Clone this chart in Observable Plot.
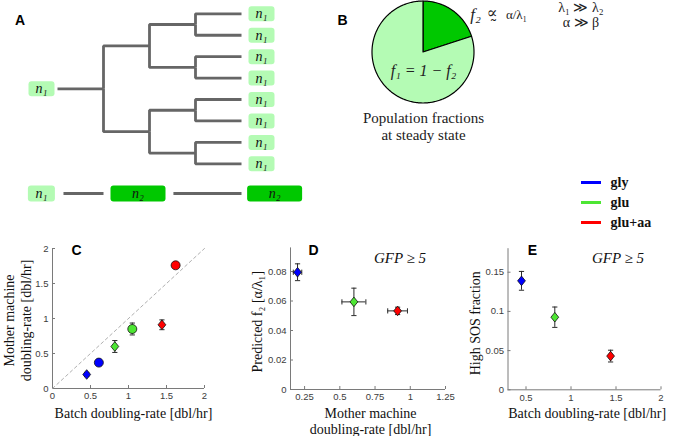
<!DOCTYPE html>
<html><head><meta charset="utf-8">
<script src="https://cdn.jsdelivr.net/npm/d3@7"></script>
<script src="https://cdn.jsdelivr.net/npm/@observablehq/plot@0.6"></script>
<style>
body{margin:0;background:#fff;}
#fig{position:relative;width:680px;height:436px;overflow:hidden;background:#fff;}
.panel{position:absolute;}
.panel svg{overflow:visible;display:block;}
</style></head><body><div id="fig"></div>
<script>
// ---------------- DATA ----------------
const conditions = ["gly", "glu", "glu+aa"];
const conditionColors = ["#0000ff", "#4de633", "#ff0000"];

// Panel C (diamonds and circles): batch vs mother-machine doubling rate
const batchRateDiamond = [0.45, 0.82, 1.44];
const mmRateDiamond = [0.20, 0.60, 0.91];
const mmRateDiamondErr = [0.03, 0.085, 0.07];
const batchRateCircle = [0.61, 1.05, 1.62];
const mmRateCircle = [0.37, 0.85, 1.76];
const mmRateCircleErr = [0.02, 0.085, 0.02];
const identityLine = [0, 2];

// Panel D: predicted f2 vs mother-machine rate
const predictedF2 = [0.0795, 0.0594, 0.0533];
const predictedF2Err = [0.0057, 0.0093, 0.0025];

// Panel E: high SOS fraction vs batch rate
const highSOSFraction = [0.139, 0.0926, 0.043];
const highSOSFractionErr = [0.012, 0.013, 0.0075];

// Panel B: steady-state population fractions
const popStates = ["f2", "f1"];
const popValues = [0.2, 0.8];
const popColors = ["#00c800", "#b4fbb4"];

// Panel A: lineage tree and non-dividing lineage
const lineagePaths = [
  "root",
  "root/g1/g2a/g3a/l1", "root/g1/g2a/g3a/l2", "root/g1/g2a/g3b/l3", "root/g1/g2a/g3b/l4",
  "root/g1/g2b/g3c/l5", "root/g1/g2b/g3c/l6", "root/g1/g2b/g3d/l7", "root/g1/g2b/g3d/l8"
];
const cellStateLabels = ["n₁", "n₂", "n₂"];
const cellStateKinds = ["n1", "n2", "n2"];
const cellPositions = [-0.35, 1.75, 4.72];   // in generations
const linkStarts = [0.13, 2.52];
const linkEnds = [1.0, 4.0];

// Axis ticks
const ticksC = [0, 0.5, 1, 1.5, 2];
const ticksDx = [0.25, 0.5, 0.75, 1, 1.25];
const ticksDy = [0, 0.02, 0.04, 0.06, 0.08];
const ticksEx = [0.5, 1, 1.5, 2];
const ticksEy = [0, 0.05, 0.1, 0.15];

// ---------------- HELPERS ----------------
const serif = "'Liberation Serif','DejaVu Serif',serif";
const sans = "'Liberation Sans',Arial,sans-serif";
const axisGrey = "#7a7a7a";
const tickText = "#3c3c3c";
const barColor = "#2a2a2a";
const lightGreen = "#b4fbb4";
const darkGreen = "#00c800";
const treeGrey = "#666666";

const fig = document.getElementById("fig");
function place(node, left, top) {
  const d = document.createElement("div");
  d.className = "panel";
  d.style.left = left + "px";
  d.style.top = top + "px";
  d.appendChild(node);
  fig.appendChild(d);
}
function roundRect(w, h, r) {
  return {draw(ctx) {
    const x0 = -w / 2, y0 = -h / 2, x1 = w / 2, y1 = h / 2;
    ctx.moveTo(x0 + r, y0);
    ctx.lineTo(x1 - r, y0);
    ctx.arcTo(x1, y0, x1, y0 + r, r);
    ctx.lineTo(x1, y1 - r);
    ctx.arcTo(x1, y1, x1 - r, y1, r);
    ctx.lineTo(x0 + r, y1);
    ctx.arcTo(x0, y1, x0, y1 - r, r);
    ctx.lineTo(x0, y0 + r);
    ctx.arcTo(x0, y0, x0 + r, y0, r);
    ctx.closePath();
  }};
}
const hCap = {draw(ctx) { ctx.moveTo(-2.6, 0); ctx.lineTo(2.6, 0); }};
const vCap = {draw(ctx) { ctx.moveTo(0, -2.6); ctx.lineTo(0, 2.6); }};
const diamondSym = {draw(ctx) { ctx.moveTo(0, -4.8); ctx.lineTo(3.9, 0); ctx.lineTo(0, 4.8); ctx.lineTo(-3.9, 0); ctx.closePath(); }};

const baseStyle = {background: "transparent", overflow: "visible", fontFamily: sans, fontSize: "9.5px", color: "#222"};
const colorScale = {domain: conditions, range: conditionColors};
const fmt = d => `${d}`;
const mid = {textAnchor: "middle", lineAnchor: "middle"};

function frameAxes(xMin, yMin, xTicks, yTicks) {
  return [
    Plot.ruleX([xMin], {stroke: axisGrey, strokeWidth: 1}),
    Plot.ruleY([yMin], {stroke: axisGrey, strokeWidth: 1}),
    Plot.axisX({ticks: xTicks, tickSize: -3, fill: "none", label: null, stroke: axisGrey}),
    Plot.axisY({ticks: yTicks, tickSize: -3, fill: "none", label: null, stroke: axisGrey}),
    Plot.axisX({ticks: xTicks, tickFormat: fmt, tickSize: 0, tickPadding: 4, label: null, fill: tickText, fontSize: 9.5}),
    Plot.axisY({ticks: yTicks, tickFormat: fmt, tickSize: 0, tickPadding: 4, label: null, fill: tickText, fontSize: 9.5})
  ];
}
function vBars(rows, x, y, e) {
  return [
    Plot.ruleX(rows, {x, y1: d => y(d) - e(d), y2: d => y(d) + e(d), stroke: barColor, strokeWidth: 1}),
    Plot.dot(rows, {x, y: d => y(d) + e(d), symbol: hCap, stroke: barColor, fill: "none", strokeWidth: 1}),
    Plot.dot(rows, {x, y: d => y(d) - e(d), symbol: hCap, stroke: barColor, fill: "none", strokeWidth: 1})
  ];
}
function hBars(rows, x, y, e) {
  return [
    Plot.ruleY(rows, {y, x1: d => x(d) - e(d), x2: d => x(d) + e(d), stroke: barColor, strokeWidth: 1}),
    Plot.dot(rows, {y, x: d => x(d) + e(d), symbol: vCap, stroke: barColor, fill: "none", strokeWidth: 1}),
    Plot.dot(rows, {y, x: d => x(d) - e(d), symbol: vCap, stroke: barColor, fill: "none", strokeWidth: 1})
  ];
}
function panelLetter(letter, dx, dy) {
  return Plot.text([letter], {frameAnchor: "top-left", dx, dy, ...mid, fontFamily: sans, fontWeight: "bold", fontSize: 14, fill: "#000"});
}
function yLabel(t, dx, dy, o = {}) {
  return Plot.text([t], {frameAnchor: "left", rotate: -90, dx, dy, ...mid, fontFamily: serif, fontSize: 14, fill: "#111", ...o});
}
function xLabel(t, dx, dy, o = {}) {
  return Plot.text([t], {frameAnchor: "bottom", dx, dy, ...mid, fontFamily: serif, fontSize: 14, fill: "#111", ...o});
}
function note(t, dx, dy, o = {}) {
  return Plot.text([t], {frameAnchor: "top-left", dx, dy, ...mid, fontFamily: serif, fontSize: 15, fill: "#222", ...o});
}

const rowsDiamond = conditions.map((c, i) => ({
  cond: c, batch: batchRateDiamond[i], mm: mmRateDiamond[i], mmErr: mmRateDiamondErr[i],
  f2: predictedF2[i], f2Err: predictedF2Err[i], sos: highSOSFraction[i], sosErr: highSOSFractionErr[i]
}));
const rowsCircle = conditions.map((c, i) => ({cond: c, batch: batchRateCircle[i], mm: mmRateCircle[i], mmErr: mmRateCircleErr[i]}));

// ---------------- PANEL A: tree ----------------
const treeRoot = d3.stratify().path(d => d)(lineagePaths);
d3.tree().nodeSize([1, 1]).separation(() => 1)(treeRoot);
const treeNodes = treeRoot.descendants().map(n => ({gen: n.y, pos: -n.x, leaf: !n.children, root: !n.parent}));
const treeEdges = treeRoot.links().map(l => ({g1: l.source.y, p1: -l.source.x, g2: l.target.y, p2: -l.target.x}));

const treeX = {domain: [-57 / 46, (310 - 57) / 46], range: [0, 310], axis: null};
const nodeText = {fontFamily: serif, fontStyle: "italic", fontSize: 14, fill: "#111", ...mid};
const treePlot = Plot.plot({
  width: 310, height: 180, margin: 0,
  x: treeX,
  y: {domain: [3.5 - (180 - 13.3) / 21.43, 3.5 + 13.3 / 21.43], range: [180, 0], axis: null},
  style: baseStyle,
  marks: [
    Plot.link(treeEdges, {x1: "g1", y1: "p1", x2: "g2", y2: "p2", curve: "step-before", stroke: treeGrey, strokeWidth: 2.8, strokeLinejoin: "miter"}),
    Plot.dot(treeNodes.filter(d => d.leaf), {x: "gen", y: "pos", dx: 20, symbol: roundRect(26, 15, 3), fill: lightGreen, stroke: "none"}),
    Plot.text(treeNodes.filter(d => d.leaf), {x: "gen", y: "pos", dx: 20, text: () => "n₁", ...nodeText}),
    Plot.dot(treeNodes.filter(d => d.root), {x: "gen", y: "pos", dx: -16, symbol: roundRect(26, 15, 3), fill: lightGreen, stroke: "none"}),
    Plot.text(treeNodes.filter(d => d.root), {x: "gen", y: "pos", dx: -16, text: () => "n₁", ...nodeText}),
    panelLetter("A", 19.5, 20)
  ]
});
place(treePlot, 0, 0);

// bottom lineage (no division)
const cells = cellStateLabels.map((s, i) => ({label: s, kind: cellStateKinds[i], pos: cellPositions[i]}));
const segs = linkStarts.map((s, i) => ({from: s, to: linkEnds[i]}));
const rowPlot = Plot.plot({
  width: 310, height: 20, margin: 0,
  x: treeX,
  y: {domain: [-1, 1], range: [20, 0], axis: null},
  style: baseStyle,
  marks: [
    Plot.link(segs, {x1: "from", x2: "to", y1: 0, y2: 0, stroke: treeGrey, strokeWidth: 2.8}),
    Plot.dot(cells.filter(d => d.kind === "n1"), {x: "pos", symbol: roundRect(27, 16, 3), fill: lightGreen, stroke: "none"}),
    Plot.dot(cells.filter(d => d.kind === "n2"), {x: "pos", symbol: roundRect(55, 16, 3), fill: darkGreen, stroke: "none"}),
    Plot.text(cells, {x: "pos", text: "label", ...nodeText})
  ]
});
place(rowPlot, 0, 183);

// ---------------- PANEL B: pie ----------------
const popData = popStates.map((s, i) => ({state: s, value: popValues[i]}));
const arcs = d3.pie().sort(null).value(d => d.value)(popData);
const slicePts = arcs.flatMap(a => {
  const n = Math.max(2, Math.ceil((a.endAngle - a.startAngle) / (Math.PI / 180)));
  const pts = [{state: a.data.state, x: 0, y: 0}];
  for (let k = 0; k <= n; ++k) {
    const t = a.startAngle + (a.endAngle - a.startAngle) * k / n;
    pts.push({state: a.data.state, x: Math.sin(t), y: Math.cos(t)});
  }
  pts.push({state: a.data.state, x: 0, y: 0});
  return pts;
});
const R = 51, cx = 92.5, cy = 51.5;
const piePlot = Plot.plot({
  width: 350, height: 150, margin: 0,
  x: {domain: [-cx / R, (350 - cx) / R], range: [0, 350], axis: null},
  y: {domain: [(cy - 150) / R, cy / R], range: [150, 0], axis: null},
  color: {domain: popStates, range: popColors},
  style: baseStyle,
  marks: [
    Plot.line(slicePts, {x: "x", y: "y", z: "state", fill: "state", stroke: "#000", strokeWidth: 1.2, strokeLinejoin: "round"}),
    panelLetter("B", 12, 20),
    note("f₂", 145, 14, {fontStyle: "italic", fontSize: 17}),
    note("∝\u0330", 161.5, 12, {fontSize: 16, fontFamily: "'DejaVu Serif',serif"}),
    note("α/λ₁", 186, 14, {fontSize: 13}),
    note("f₁ = 1 − f₂", 93, 70, {fontStyle: "italic", fontSize: 16}),
    note("Population fractions", 93, 118),
    note("at steady state", 93, 135),
    note("λ₁ ≫ λ₂", 250.5, 7, {fontSize: 14}),
    note("α ≫ β", 250.5, 22, {fontSize: 14})
  ]
});
place(piePlot, 330, 0);

// ---------------- LEGEND ----------------
const legendPlot = Plot.plot({
  width: 120, height: 70, margin: 0,
  x: {domain: [0, 1], range: [21, 41], axis: null},
  y: {type: "point", domain: conditions, range: [12, 52], padding: 0, axis: null},
  color: colorScale,
  style: baseStyle,
  marks: [
    Plot.ruleY(conditions, {y: d => d, x1: 0, x2: 1, stroke: d => d, strokeWidth: 3}),
    Plot.text(conditions, {y: d => d, x: 1, dx: 9, text: d => d, textAnchor: "start", lineAnchor: "middle", fontFamily: serif, fontWeight: "bold", fontSize: 14, fill: "#111"})
  ]
});
place(legendPlot, 560, 170);

// ---------------- PANEL C ----------------
const cPlot = Plot.plot({
  width: 230, height: 196, marginLeft: 52, marginRight: 26, marginTop: 8, marginBottom: 48,
  x: {domain: [0, 2]}, y: {domain: [0, 2]},
  color: colorScale,
  style: baseStyle,
  marks: [
    ...frameAxes(0, 0, ticksC, ticksC),
    Plot.line(identityLine, {x: d => d, y: d => d, stroke: "#b0b0b0", strokeDasharray: "3,3", strokeWidth: 1}),
    ...vBars(rowsDiamond, d => d.batch, d => d.mm, d => d.mmErr),
    ...vBars(rowsCircle, d => d.batch, d => d.mm, d => d.mmErr),
    Plot.dot(rowsCircle, {x: "batch", y: "mm", fill: "cond", r: 4.5, stroke: "#111", strokeWidth: 0.8}),
    Plot.dot(rowsDiamond, {x: "batch", y: "mm", fill: "cond", symbol: diamondSym, stroke: "#111", strokeWidth: 0.8}),
    yLabel("Mother machine\ndoubling-rate [dbl/hr]", -35.5, 2, {lineHeight: 1.19}),
    xLabel("Batch doubling-rate [dbl/hr]", 5, 25),
    panelLetter("C", 24, 2)
  ]
});
place(cPlot, 0, 240);

// ---------------- PANEL D ----------------
const dPlot = Plot.plot({
  width: 230, height: 196, marginLeft: 60, marginRight: 15, marginTop: 7.4, marginBottom: 47,
  x: {domain: [0.15, 1.25]}, y: {domain: [0, 0.096]},
  color: colorScale,
  style: baseStyle,
  marks: [
    ...frameAxes(0.15, 0, ticksDx, ticksDy),
    ...vBars(rowsDiamond, d => d.mm, d => d.f2, d => d.f2Err),
    ...hBars(rowsDiamond, d => d.mm, d => d.f2, d => d.mmErr),
    Plot.dot(rowsDiamond, {x: "mm", y: "f2", fill: "cond", symbol: diamondSym, stroke: "#111", strokeWidth: 0.8}),
    yLabel("Predicted f₂ [α/λ₁]", -33.3, 3),
    xLabel("Mother machine\ndoubling-rate [dbl/hr]", 2.5, 31, {lineHeight: 1.16}),
    note("GFP ≥ 5", 109.5, 10.6, {fontStyle: "italic", fill: "#111"}),
    panelLetter("D", 23, 2.6)
  ]
});
place(dPlot, 230, 240);

// ---------------- PANEL E ----------------
const ePlot = Plot.plot({
  width: 230, height: 196, marginLeft: 57.5, marginRight: 19.5, marginTop: 8.2, marginBottom: 46.7,
  x: {domain: [0.3, 2]}, y: {domain: [0, 0.18]},
  color: colorScale,
  style: baseStyle,
  marks: [
    ...frameAxes(0.3, 0, ticksEx, ticksEy),
    ...vBars(rowsDiamond, d => d.batch, d => d.sos, d => d.sosErr),
    Plot.dot(rowsDiamond, {x: "batch", y: "sos", fill: "cond", symbol: diamondSym, stroke: "#111", strokeWidth: 0.8}),
    yLabel("High SOS fraction", -32.5, 4),
    xLabel("Batch doubling-rate [dbl/hr]", 2.7, 24),
    note("GFP ≥ 5", 110, 9.8, {fontStyle: "italic", fill: "#111"}),
    panelLetter("E", 24.5, 1.8)
  ]
});
place(ePlot, 450, 240);
</script></body></html>
